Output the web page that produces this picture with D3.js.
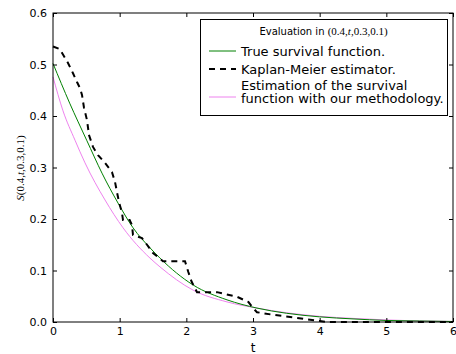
<!DOCTYPE html>
<html>
<head>
<meta charset="utf-8">
<script src="https://cdn.jsdelivr.net/npm/d3@7"></script>
<style>
  html, body { margin: 0; padding: 0; background: #fff; }
  svg { display: block; }
  text { font-family: "DejaVu Sans", sans-serif; fill: #000; }
  .math { font-family: "Liberation Serif", "DejaVu Serif", serif; }
</style>
</head>
<body>
<svg id="chart" width="456" height="354"></svg>
<script>
// True survival function S(0.4, t, 0.3, 0.1)
const trueT = [0, 0.25, 0.505, 0.735, 0.975, 1.2, 1.455, 1.605, 2.1, 2.61, 3.06, 3.5, 4, 4.5, 5, 5.5, 6];
const trueS = [0.502, 0.425, 0.353, 0.289, 0.231, 0.183, 0.144, 0.124, 0.072, 0.043, 0.027, 0.017, 0.01, 0.006, 0.003, 0.002, 0.001];

// Kaplan-Meier estimator
const kmT = [0, 0.1, 0.225, 0.3, 0.36, 0.405, 0.435, 0.465, 0.51, 0.54, 0.6, 0.675, 0.78, 0.885, 0.93, 0.96, 0.99, 1.035, 1.05, 1.15, 1.185, 1.2, 1.335, 1.41, 1.5, 1.65, 1.98, 2.03, 2.08, 2.16, 2.46, 2.76, 2.93, 3.0, 3.06, 3.3, 3.66, 4.0, 4.1, 6];
const kmS = [0.535, 0.53, 0.503, 0.483, 0.466, 0.454, 0.441, 0.416, 0.392, 0.363, 0.34, 0.324, 0.309, 0.291, 0.272, 0.252, 0.233, 0.212, 0.198, 0.198, 0.188, 0.169, 0.163, 0.15, 0.134, 0.118, 0.118, 0.097, 0.078, 0.058, 0.058, 0.049, 0.039, 0.027, 0.019, 0.014, 0.008, 0.002, 0, 0];

// Estimated survival function (our methodology)
const estT = [0, 0.15, 0.33, 0.48, 0.78, 1.05, 1.455, 1.605, 2.1, 2.61, 3.06, 3.5, 4, 4.5, 5, 5.5, 6];
const estS = [0.476, 0.41, 0.353, 0.309, 0.237, 0.183, 0.124, 0.107, 0.062, 0.039, 0.027, 0.018, 0.011, 0.007, 0.004, 0.002, 0.001];

const xTicks = [0, 1, 2, 3, 4, 5, 6];
const yTicks = [0.0, 0.1, 0.2, 0.3, 0.4, 0.5, 0.6];

const legendTitle = "Evaluation in ";
const legendMath = ["(0.4,", "t", ",0.3,0.1)"];
const legendLabels = [["True survival function."], ["Kaplan-Meier estimator."], ["Estimation of the survival", "function with our methodology."]];

const svg = d3.select("#chart");
const m = { left: 53, right: 453, top: 13, bottom: 322 };

const x = d3.scaleLinear().domain([0, 6]).range([m.left, m.right]);
const y = d3.scaleLinear().domain([0, 0.6]).range([m.bottom, m.top]);

const plot = svg.append("g");

// curves
const smooth = d3.line().x(d => x(d[0])).y(d => y(d[1])).curve(d3.curveMonotoneX);
const straight = d3.line().x(d => x(d[0])).y(d => y(d[1]));

plot.append("path")
  .attr("d", smooth(d3.zip(estT, estS)))
  .attr("fill", "none").attr("stroke", "#ee82ee").attr("stroke-width", 1);
plot.append("path")
  .attr("d", smooth(d3.zip(trueT, trueS)))
  .attr("fill", "none").attr("stroke", "#008000").attr("stroke-width", 1);
plot.append("path")
  .attr("d", straight(d3.zip(kmT, kmS)))
  .attr("fill", "none").attr("stroke", "#000").attr("stroke-width", 2)
  .attr("stroke-dasharray", "6,5");

// axes with inward ticks on all four sides
const axB = svg.append("g").attr("transform", `translate(0,${m.bottom})`)
  .call(d3.axisBottom(x).tickValues(xTicks).tickFormat(d3.format("d")).tickSizeInner(-4).tickSizeOuter(0).tickPadding(5));
const axT = svg.append("g").attr("transform", `translate(0,${m.top})`)
  .call(d3.axisTop(x).tickValues(xTicks).tickFormat("").tickSizeInner(-4).tickSizeOuter(0));
const axL = svg.append("g").attr("transform", `translate(${m.left},0)`)
  .call(d3.axisLeft(y).tickValues(yTicks).tickFormat(d3.format(".1f")).tickSizeInner(-4).tickSizeOuter(0).tickPadding(6));
const axR = svg.append("g").attr("transform", `translate(${m.right},0)`)
  .call(d3.axisRight(y).tickValues(yTicks).tickFormat("").tickSizeInner(-4).tickSizeOuter(0));

[axB, axT, axL, axR].forEach(a => {
  a.select(".domain").remove();
  a.selectAll("line").attr("stroke", "#000");
  a.selectAll("text").attr("font-family", "DejaVu Sans, sans-serif").attr("font-size", 11).attr("fill", "#000");
});

// frame
svg.append("rect")
  .attr("x", m.left).attr("y", m.top)
  .attr("width", m.right - m.left).attr("height", m.bottom - m.top)
  .attr("fill", "none").attr("stroke", "#000").attr("stroke-width", 1);

// axis labels
svg.append("text").attr("x", (m.left + m.right) / 2).attr("y", 352)
  .attr("text-anchor", "middle").attr("font-size", 12).text("t");

const yl = svg.append("text").attr("class", "math")
  .attr("transform", "translate(24,168) rotate(-90)")
  .attr("text-anchor", "middle").attr("font-size", 11);
yl.append("tspan").attr("font-style", "italic").text("S");
yl.append("tspan").text("(0.4,");
yl.append("tspan").attr("font-style", "italic").text("t");
yl.append("tspan").text(",0.3,0.1)");

// legend
const lg = svg.append("g");
lg.append("rect").attr("x", 200.5).attr("y", 19.5).attr("width", 247).attr("height", 96)
  .attr("fill", "#fff").attr("stroke", "#000").attr("stroke-width", 1);

const title = lg.append("text").attr("x", 323.5).attr("y", 35).attr("text-anchor", "middle").attr("font-size", 10);
title.append("tspan").text(legendTitle);
title.append("tspan").attr("class", "math").attr("font-size", 11).text(legendMath[0]);
title.append("tspan").attr("class", "math").attr("font-size", 11).attr("font-style", "italic").text(legendMath[1]);
title.append("tspan").attr("class", "math").attr("font-size", 11).text(legendMath[2]);

const handles = [
  { y: 51, stroke: "#008000", w: 1, dash: null },
  { y: 69, stroke: "#000", w: 2, dash: "6,5" },
  { y: 97, stroke: "#ee82ee", w: 1, dash: null }
];
const textY = [[55.5], [74], [89.5, 103]];
handles.forEach((h, i) => {
  lg.append("line").attr("x1", 209).attr("x2", 236).attr("y1", h.y).attr("y2", h.y)
    .attr("stroke", h.stroke).attr("stroke-width", h.w).attr("stroke-dasharray", h.dash);
  legendLabels[i].forEach((s, j) => {
    lg.append("text").attr("x", 241).attr("y", textY[i][j]).attr("font-size", 13).text(s);
  });
});
</script>
</body>
</html>
